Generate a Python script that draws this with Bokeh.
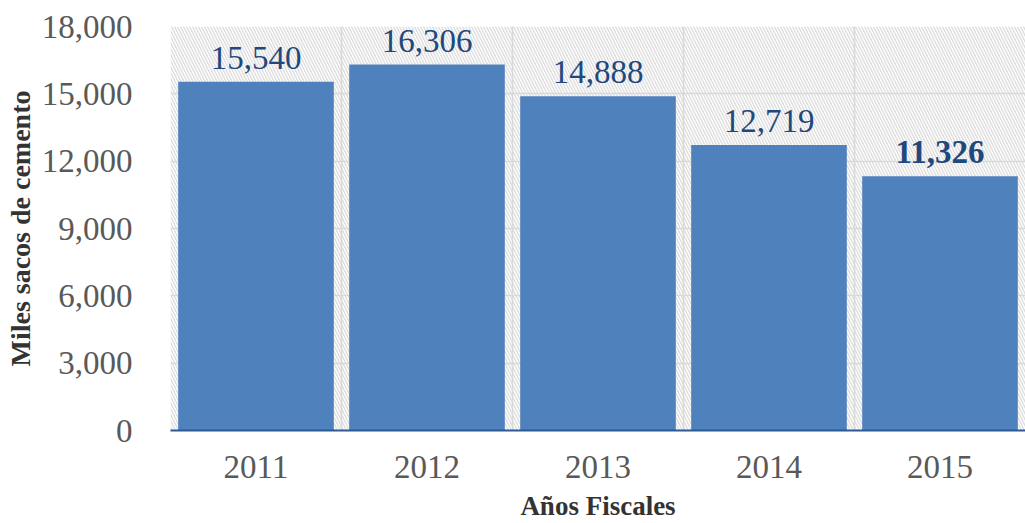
from bokeh.plotting import figure
from bokeh.models import Range1d, FixedTicker, BoxAnnotation, ColumnDataSource, NumeralTickFormatter, LabelSet
from bokeh.embed import file_html
from bokeh.resources import INLINE
from bokeh.core.properties import value, field

years = ["2011", "2012", "2013", "2014", "2015"]
sacks = [15540, 16306, 14888, 12719, 11326]
y_ticks = [0, 3000, 6000, 9000, 12000, 15000, 18000]

n = len(years)
xs = [i + 0.5 for i in range(n)]
src = ColumnDataSource(dict(
    x=xs,
    top=sacks,
    label=[f"{v:,}" for v in sacks],
    style=["bold" if i == n - 1 else "normal" for i in range(n)],
))

p = figure(width=1025, height=523, x_range=Range1d(0, n), y_range=Range1d(y_ticks[0], y_ticks[-1]),
           output_backend="svg", toolbar_location=None,
           min_border_left=170, min_border_right=0, min_border_top=26, min_border_bottom=93)
p.outline_line_color = None
p.background_fill_color = "white"

bg = BoxAnnotation(fill_color="white", fill_alpha=1.0, line_color=None,
                   hatch_pattern="left_diagonal_line", hatch_color="#dddddd",
                   hatch_scale=6, hatch_weight=1.4, level="image")
p.add_layout(bg)

p.vbar(x="x", top="top", width=0.91, source=src, fill_color="#4F81BD", line_color=None)

labels = LabelSet(x="x", y="top", text="label", source=src, text_align="center",
                  text_baseline="alphabetic", y_offset=13,
                  text_font=value("Liberation Serif"), text_font_size="33px",
                  text_color="#1F497D", text_font_style=field("style"))
p.add_layout(labels)

# grids
p.ygrid.ticker = FixedTicker(ticks=y_ticks)
p.ygrid.grid_line_color = "#d9d9d9"
p.ygrid.grid_line_width = 1.6
p.xgrid.ticker = FixedTicker(ticks=list(range(n + 1)))
p.xgrid.grid_line_color = "#d9d9d9"
p.xgrid.grid_line_width = 1.6

# y axis
p.yaxis.ticker = FixedTicker(ticks=y_ticks)
p.yaxis.formatter = NumeralTickFormatter(format="0,0")
p.yaxis.axis_line_color = None
p.yaxis.major_tick_line_color = None
p.yaxis.minor_tick_line_color = None
p.yaxis.major_label_standoff = 32
p.yaxis.major_label_text_font = "Liberation Serif"
p.yaxis.major_label_text_font_size = "33px"
p.yaxis.major_label_text_color = "#595959"
p.yaxis.axis_label = "Miles sacos de cemento"
p.yaxis.axis_label_text_font = "Liberation Serif"
p.yaxis.axis_label_text_font_size = "28px"
p.yaxis.axis_label_text_font_style = "bold"
p.yaxis.axis_label_text_color = "#333333"
p.yaxis.axis_label_standoff = 3

# x axis
p.xaxis.ticker = FixedTicker(ticks=xs)
p.xaxis.major_label_overrides = {x: y for x, y in zip(xs, years)}
p.xaxis.axis_line_color = "#2C5A94"
p.xaxis.axis_line_width = 2
p.xaxis.major_tick_line_color = None
p.xaxis.minor_tick_line_color = None
p.xaxis.major_label_standoff = 19
p.xaxis.major_label_text_font = "Liberation Serif"
p.xaxis.major_label_text_font_size = "33px"
p.xaxis.major_label_text_color = "#595959"
p.xaxis.axis_label = "Años Fiscales"
p.xaxis.axis_label_text_font = "Liberation Serif"
p.xaxis.axis_label_text_font_size = "27px"
p.xaxis.axis_label_text_font_style = "bold"
p.xaxis.axis_label_text_color = "#333333"
p.xaxis.axis_label_standoff = 10

open("out.html", "w").write(file_html(p, INLINE))
